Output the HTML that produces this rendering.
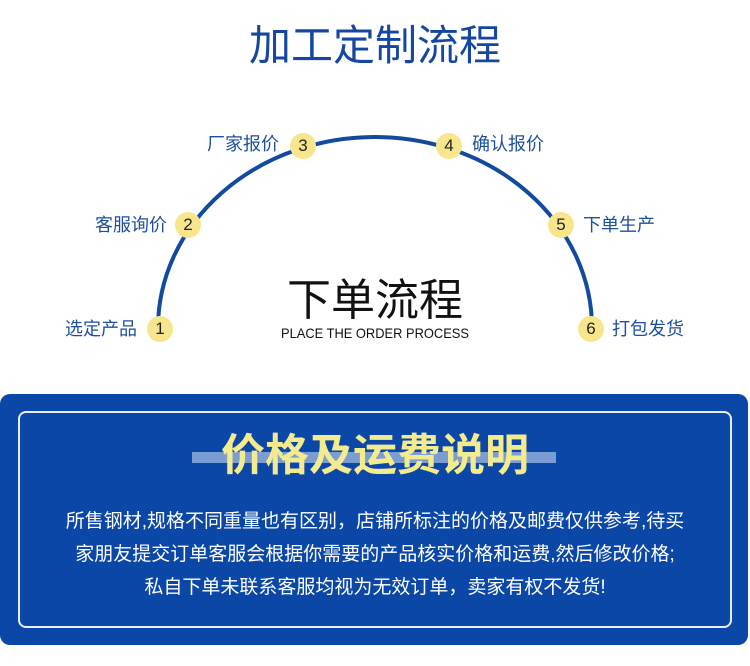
<!DOCTYPE html>
<html><head><meta charset="utf-8"><style>
body{margin:0;width:750px;height:666px;background:#fff;position:relative;overflow:hidden;font-family:"Liberation Sans","Noto Sans CJK SC",sans-serif}
.a{position:absolute;white-space:nowrap}
.lbl{font-size:18px;color:#1d4f9c;line-height:24px}
.c{position:absolute;width:26px;height:26px;border-radius:50%;background:#f8e68c;color:#222;font-size:17px;text-align:center;line-height:26px}
</style></head><body>
<div class="a" style="left:0;width:750px;top:20px;text-align:center;font-size:42px;color:#1647a0;line-height:52px">加工定制流程</div>
<svg class="a" style="left:0;top:0" width="750" height="380"><path d="M158 328 A217 191 0 0 1 592 328" fill="none" stroke="#124a9f" stroke-width="4"/></svg>
<div class="c" style="left:147px;top:316px">1</div>
<div class="c" style="left:175px;top:212px">2</div>
<div class="c" style="left:290px;top:133px">3</div>
<div class="c" style="left:436px;top:133px">4</div>
<div class="c" style="left:548px;top:212px">5</div>
<div class="c" style="left:578px;top:316px">6</div>
<div class="a lbl" style="left:65px;top:317px">选定产品</div>
<div class="a lbl" style="left:95px;top:213px">客服询价</div>
<div class="a lbl" style="left:207px;top:132px">厂家报价</div>
<div class="a lbl" style="left:472px;top:132px">确认报价</div>
<div class="a lbl" style="left:583px;top:213px">下单生产</div>
<div class="a lbl" style="left:612px;top:317px">打包发货</div>
<div class="a" style="left:0;width:750px;top:275px;text-align:center;font-size:44px;color:#111;line-height:52px">下单流程</div>
<div class="a" style="left:0;width:750px;top:325px;text-align:center;font-size:14px;color:#111;transform:scaleX(0.92)">PLACE THE ORDER PROCESS</div>
<div class="a" style="left:0;top:394px;width:748px;height:251px;background:#0b47a6;border-radius:10px"></div>
<div class="a" style="left:18px;top:411px;width:710px;height:213px;border:2px solid #e6eefa;border-radius:8px"></div>
<div class="a" style="left:192px;top:452px;width:364px;height:11px;background:#7a9dd4"></div>
<div class="a" style="left:0;width:750px;top:428px;text-align:center;font-size:44px;font-weight:bold;color:#f4ea8e;line-height:56px">价格及运费说明</div>
<div class="a" style="left:0;width:750px;top:505px;text-align:center;font-size:19px;color:#fff;line-height:33px">所售钢材,规格不同重量也有区别，店铺所标注的价格及邮费仅供参考,待买<br>家朋友提交订单客服会根据你需要的产品核实价格和运费,然后修改价格;<br>私自下单未联系客服均视为无效订单，卖家有权不发货!</div>
</body></html>
